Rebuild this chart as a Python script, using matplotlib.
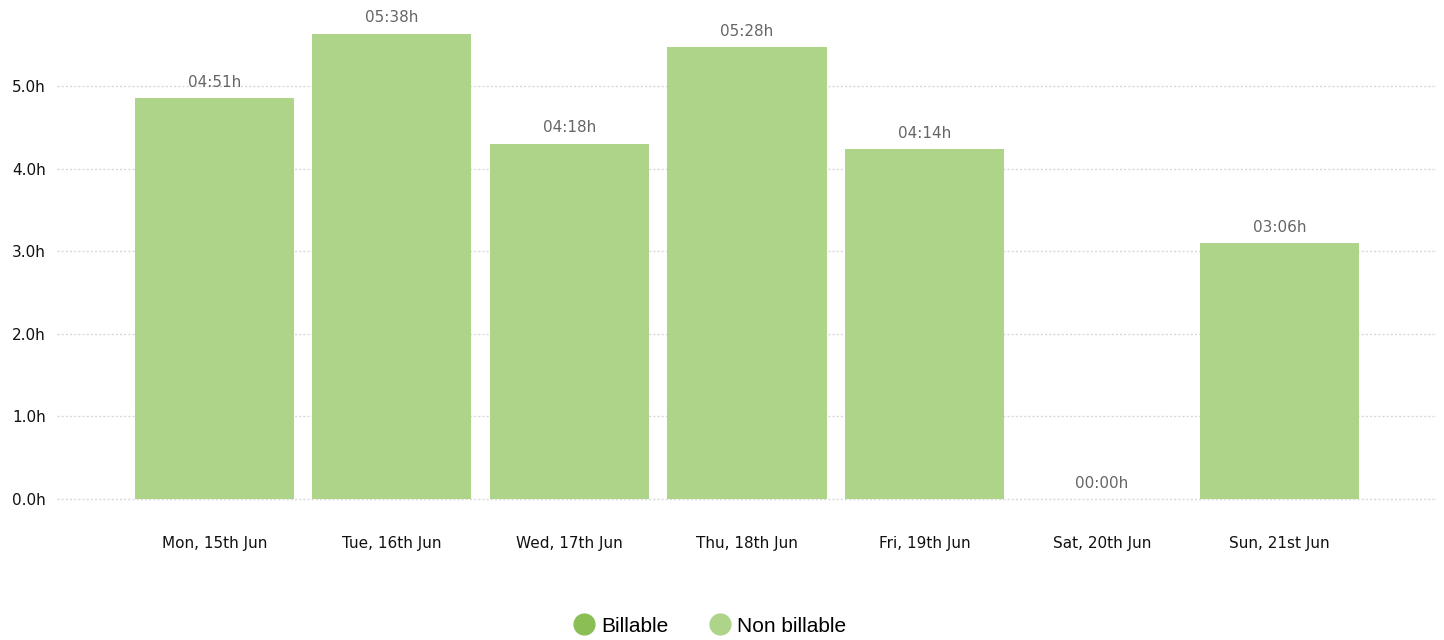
import matplotlib
matplotlib.use("Agg")
import matplotlib.pyplot as plt
from matplotlib.lines import Line2D

categories = ["Mon, 15th Jun", "Tue, 16th Jun", "Wed, 17th Jun", "Thu, 18th Jun",
              "Fri, 19th Jun", "Sat, 20th Jun", "Sun, 21st Jun"]
billable = [0, 0, 0, 0, 0, 0, 0]
non_billable = [4 + 51/60, 5 + 38/60, 4 + 18/60, 5 + 28/60, 4 + 14/60, 0, 3 + 6/60]
total_labels = ["04:51h", "05:38h", "04:18h", "05:28h", "04:14h", "00:00h", "03:06h"]
yticks = [0, 1, 2, 3, 4, 5]
ytick_labels = ["0.0h", "1.0h", "2.0h", "3.0h", "4.0h", "5.0h"]

c_bill = "#8bbf56"
c_non = "#aed489"

W, H = 1444, 640
fig = plt.figure(figsize=(W/100, H/100), dpi=100)
ax_left, ax_right = 57, 1437
ax_bottom, ax_top = 501, 11
ppu = 82.6  # pixels per hour
ax = fig.add_axes([ax_left/W, 1 - ax_bottom/H, (ax_right-ax_left)/W, (ax_bottom-ax_top)/H])

x = list(range(len(categories)))
ax.bar(x, billable, width=0.896, color=c_bill, zorder=3, linewidth=0)
ax.bar(x, non_billable, width=0.896, bottom=billable, color=c_non, zorder=3, linewidth=0)

for i, (b, n, lab) in enumerate(zip(billable, non_billable, total_labels)):
    ax.annotate(lab, (i, b + n), xytext=(0, 6), textcoords="offset points",
                ha="center", va="bottom", fontsize=11, color="#666666",
                family="DejaVu Sans")

ax.set_xlim(-0.887, 6.887)
ax.set_ylim(-(ax_bottom - 499)/ppu, (499 - ax_top)/ppu)
ax.set_yticks(yticks)
ax.set_yticklabels(ytick_labels)
ax.set_xticks(x)
ax.set_xticklabels(categories)
ax.tick_params(axis="y", length=0, pad=8, labelsize=11, labelcolor="#111111")
ax.tick_params(axis="x", length=0, pad=25, labelsize=11, labelcolor="#111111")
for s in ax.spines.values():
    s.set_visible(False)
ax.yaxis.grid(True, color="#d8d8d8", linestyle=(0, (1.5, 1.5)), linewidth=1, zorder=0)
ax.xaxis.grid(False)

handles = [Line2D([], [], marker="o", linestyle="none", markersize=15, color=c_bill),
           Line2D([], [], marker="o", linestyle="none", markersize=15, color=c_non)]
fig.legend(handles, ["Billable", "Non billable"], loc="center",
           bbox_to_anchor=(710/W, 1 - 626/H), ncol=2, frameon=False,
           prop={"family": "Liberation Sans", "size": 15}, handletextpad=0.3,
           columnspacing=2.0, handlelength=1.0)

fig.savefig("out.png", dpi=100, facecolor="white")
